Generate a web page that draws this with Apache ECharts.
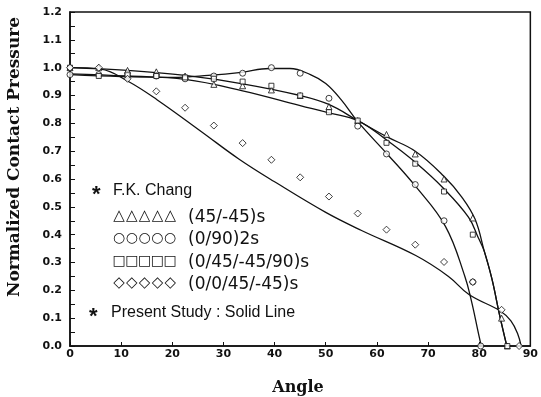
<!DOCTYPE html>
<html>
<head>
<meta charset="utf-8">
<script src="https://cdn.jsdelivr.net/npm/echarts@6/dist/echarts.min.js"></script>
<style>
html,body{margin:0;padding:0;background:#fff;}
#c{width:541px;height:397px;}
</style>
</head>
<body>
<div id="c"></div>
<script>
// ---- axis ticks ----
var xTicks = [0, 10, 20, 30, 40, 50, 60, 70, 80, 90];
var yTicks = [0.0, 0.1, 0.2, 0.3, 0.4, 0.5, 0.6, 0.7, 0.8, 0.9, 1.0, 1.1, 1.2];

// ---- F.K. Chang experimental points ----
var triAngles = [0, 5.625, 11.25, 16.875, 22.5, 28.125, 33.75, 39.375, 45, 50.625, 56.25, 61.875, 67.5, 73.125, 78.75, 84.375, 85.5];
var triValues = [1.0, 1.0, 0.99, 0.985, 0.97, 0.94, 0.935, 0.92, 0.90, 0.86, 0.81, 0.76, 0.69, 0.60, 0.46, 0.10, 0.0];

var cirAngles = [0, 5.625, 11.25, 16.875, 22.5, 28.125, 33.75, 39.375, 45, 50.625, 56.25, 61.875, 67.5, 73.125, 78.75, 80.3];
var cirValues = [0.975, 0.975, 0.97, 0.97, 0.96, 0.97, 0.98, 1.0, 0.98, 0.89, 0.79, 0.69, 0.58, 0.45, 0.23, 0.0];

var sqAngles = [0, 5.625, 11.25, 16.875, 22.5, 28.125, 33.75, 39.375, 45, 50.625, 56.25, 61.875, 67.5, 73.125, 78.75, 85.5];
var sqValues = [1.0, 0.97, 0.975, 0.97, 0.965, 0.96, 0.95, 0.935, 0.90, 0.84, 0.81, 0.73, 0.655, 0.555, 0.40, 0.0];

var diaAngles = [0, 5.625, 11.25, 16.875, 22.5, 28.125, 33.75, 39.375, 45, 50.625, 56.25, 61.875, 67.5, 73.125, 78.75, 84.375, 87.8];
var diaValues = [1.0, 1.0, 0.96, 0.915, 0.856, 0.792, 0.729, 0.669, 0.606, 0.537, 0.476, 0.418, 0.364, 0.302, 0.23, 0.13, 0.0];

// ---- Present study (solid lines) ----
var lineTriAngles = [0, 11.25, 22.5, 33.75, 45, 50.6, 56.25, 61.9, 67.5, 73.1, 76.6, 79.2, 81, 82.5, 84, 85.4];
var lineTriValues = [1.0, 0.99, 0.972, 0.942, 0.9, 0.868, 0.81, 0.752, 0.70, 0.61, 0.535, 0.455, 0.34, 0.24, 0.11, 0.0];

var lineCirAngles = [0, 10, 20, 27, 33.5, 39, 43, 47, 50, 53, 56.3, 62, 67.5, 73.4, 77.2, 78.5, 79.8, 80.4];
var lineCirValues = [0.975, 0.968, 0.965, 0.972, 0.983, 0.997, 0.997, 0.975, 0.943, 0.885, 0.805, 0.69, 0.575, 0.43, 0.25, 0.16, 0.05, 0.0];

var lineSqAngles = [0, 11.25, 22.5, 33.75, 45, 50.6, 56.25, 61.9, 67.5, 73.1, 77.9, 79.8, 81, 82.5, 84, 85.4];
var lineSqValues = [0.978, 0.97, 0.958, 0.917, 0.864, 0.838, 0.81, 0.74, 0.66, 0.565, 0.463, 0.39, 0.34, 0.24, 0.11, 0.0];

var lineDiaAngles = [0, 6, 11.25, 17, 25.7, 33, 40, 50, 57, 67.6, 74, 78, 84.2, 86.2, 87.5, 88.2];
var lineDiaValues = [1.0, 0.995, 0.952, 0.885, 0.77, 0.672, 0.59, 0.48, 0.415, 0.325, 0.25, 0.185, 0.125, 0.09, 0.045, 0.0];

function zip(a, b) { return a.map(function (v, i) { return [v, b[i]]; }); }

var chart = echarts.init(document.getElementById('c'), null, {renderer: 'canvas'});

function lineSeries(xs, ys) {
  return {
    type: 'line', data: zip(xs, ys), smooth: 0.4,
    showSymbol: false, silent: true,
    lineStyle: {color: '#111', width: 1.3}, z: 2
  };
}
function markSeries(xs, ys, sym, size) {
  return {
    type: 'scatter', data: zip(xs, ys), symbol: sym, symbolSize: size,
    itemStyle: {color: '#fff', borderColor: '#111', borderWidth: 1}, z: 3
  };
}

var legendFont = '16px "Liberation Sans"';
var legendFont2 = '17px "DejaVu Sans"';
function txt(x, y, s, font, align) {
  return {type: 'text', x: x, y: y, silent: true,
    style: {text: s, font: font, fill: '#111', align: align || 'left', verticalAlign: 'middle',
            textAlign: align || 'left', textVerticalAlign: 'middle'}};
}
function symRow(y, ch, font) {
  var out = [];
  for (var i = 0; i < 5; i++) out.push(txt(119 + i * 12.8, y, ch, font, 'center'));
  return out;
}

var graphics = [
  {type: 'text', x: 15, y: 157, rotation: Math.PI / 2, silent: true,
    style: {text: 'Normalized Contact Pressure', font: 'bold 17px "DejaVu Serif"', fill: '#111',
      align: 'center', verticalAlign: 'middle', textAlign: 'center', textVerticalAlign: 'middle'}},
  {type: 'text', x: 298, y: 388, silent: true,
    style: {text: 'Angle', font: 'bold 16px "DejaVu Serif"', fill: '#111',
      align: 'center', verticalAlign: 'middle', textAlign: 'center', textVerticalAlign: 'middle'}},
  txt(92, 195, '*', 'bold 22px "Liberation Sans"'),
  txt(113, 191, 'F.K. Chang', legendFont),
  txt(188, 218, '(45/-45)s', legendFont2),
  txt(188, 240, '(0/90)2s', legendFont2),
  txt(188, 263, '(0/45/-45/90)s', legendFont2),
  txt(188, 285, '(0/0/45/-45)s', legendFont2),
  txt(89, 317, '*', 'bold 22px "Liberation Sans"'),
  txt(111, 313, 'Present Study : Solid Line', legendFont)
].concat(symRow(216, '\u25B3', '15px "DejaVu Sans"'))
 .concat(symRow(238, '\u25CB', '14px "DejaVu Sans"'))
 .concat(symRow(261, '\u25A1', '14px "DejaVu Sans"'))
 .concat(symRow(283, '\u25C7', '15px "DejaVu Sans"'));

var option = {
  animation: false,
  backgroundColor: '#fff',
  grid: {left: 70, right: 5, top: 12, bottom: 51, show: true, borderColor: '#111', borderWidth: 1.5},
  xAxis: {
    type: 'value', min: xTicks[0], max: xTicks[xTicks.length - 1], interval: 10,
    axisLine: {show: true, onZero: false, lineStyle: {color: '#111', width: 1.5}},
    axisTick: {show: true, inside: true, length: 4, lineStyle: {color: '#111', width: 1}},
    axisLabel: {margin: 3, color: '#111', fontSize: 11, fontFamily: 'DejaVu Sans', fontWeight: 'bold'},
    splitLine: {show: false}
  },
  yAxis: {
    type: 'value', min: yTicks[0], max: yTicks[yTicks.length - 1], interval: 0.1,
    axisLine: {show: true, onZero: false, lineStyle: {color: '#111', width: 1.5}},
    axisTick: {show: true, inside: true, length: 5, lineStyle: {color: '#111', width: 1}},
    minorTick: {show: true, splitNumber: 2, length: 5, lineStyle: {color: '#111', width: 1}},
    axisLabel: {margin: 8, color: '#111', fontSize: 11, fontFamily: 'DejaVu Sans', fontWeight: 'bold',
      formatter: function (v) { return v.toFixed(1); }},
    splitLine: {show: false}
  },
  graphic: graphics,
  series: [
    lineSeries(lineTriAngles, lineTriValues),
    lineSeries(lineCirAngles, lineCirValues),
    lineSeries(lineSqAngles, lineSqValues),
    lineSeries(lineDiaAngles, lineDiaValues),
    markSeries(triAngles, triValues, 'triangle', 6),
    markSeries(cirAngles, cirValues, 'circle', 6),
    markSeries(sqAngles, sqValues, 'rect', 5),
    markSeries(diaAngles, diaValues, 'diamond', 7)
  ]
};
chart.setOption(option);
</script>
</body>
</html>
